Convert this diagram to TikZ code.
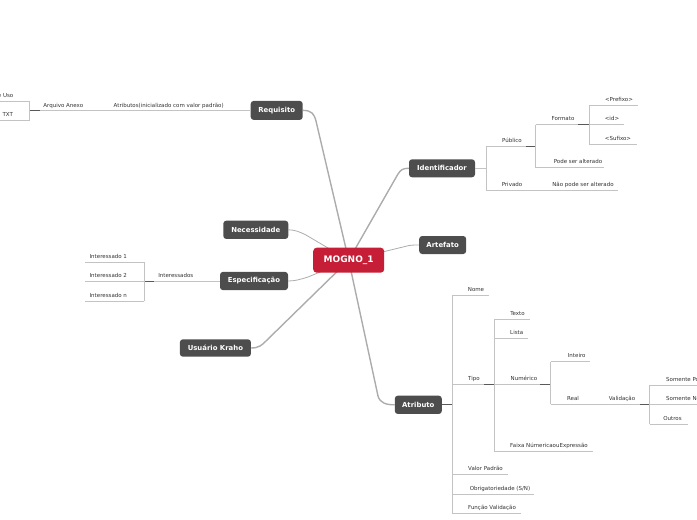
\documentclass[tikz,border=0pt]{standalone}
\usepackage{fontspec}
\setmainfont{DejaVu Sans}
\usetikzlibrary{backgrounds}
\definecolor{boxgray}{RGB}{77,77,77}
\definecolor{mred}{RGB}{198,30,54}
\definecolor{lngray}{RGB}{195,195,195}
\definecolor{cngray}{RGB}{172,172,172}
\definecolor{txtgray}{RGB}{50,50,50}
\begin{document}
\begin{tikzpicture}[x=1pt,y=-1pt,
 topic/.style={fill=boxgray, text=white, font=\bfseries\fontsize{6.9}{8}\selectfont, rounded corners=3pt, inner sep=0pt},
 central/.style={fill=mred, text=white, font=\bfseries\fontsize{9}{10}\selectfont, rounded corners=3.5pt, inner sep=0pt, minimum width=71pt, minimum height=25pt},
 lbl/.style={font=\fontsize{5.5}{6}\selectfont, text=txtgray, anchor=base, inner sep=0pt},
 lblw/.style={lbl, anchor=base west},
 lble/.style={lbl, anchor=base east},
 ln/.style={draw=lngray, line width=0.8pt},
 dk/.style={draw=black!65, line width=0.9pt},
 mainc/.style={draw=cngray, line width=1.4pt},
 thinc/.style={draw=cngray, line width=0.8pt}]
\useasboundingbox (0,0) rectangle (697,520);

% topics
\node[central] (mogno) at (348.7,260.2) {MOGNO\_1};
\node[topic, minimum width=52pt, minimum height=19pt] (req) at (276.7,110.4) {Requisito};
\node[topic, minimum width=66pt, minimum height=18pt] (ident) at (442,168.3) {Identificador};
\node[topic, minimum width=47pt, minimum height=18pt] (art) at (442.7,245) {Artefato};
\node[topic, minimum width=65pt, minimum height=18.3pt] (nec) at (255.8,229.8) {Necessidade};
\node[topic, minimum width=68pt, minimum height=18.3pt] (esp) at (254,281) {Especificação};
\node[topic, minimum width=71pt, minimum height=17.4pt] (usr) at (215.4,348) {Usuário Kraho};
\node[topic, minimum width=47pt, minimum height=18.3pt] (atr) at (418.3,404.8) {Atributo};

\begin{scope}[on background layer]
\draw[mainc] (req.east) .. controls (312,110.4) and (314,114) .. (316,121) -- (mogno.center);
\draw[mainc] (mogno.center) -- (398,174) .. controls (401,169.5) and (403,168.3) .. (ident.west);
\draw[thinc] (mogno.center) -- (405,246.5) .. controls (410,245) and (413,245) .. (art.west);
\draw[thinc] (nec.east) .. controls (295,229.8) and (300,232) .. (306,235) -- (mogno.center);
\draw[thinc] (esp.east) .. controls (295,281) and (300,279.5) .. (308,277) -- (mogno.center);
\draw[mainc] (usr.east) .. controls (259,348) and (262,345) .. (266,341) -- (mogno.center);
\draw[mainc] (mogno.center) -- (378,396) .. controls (380,403) and (386,404.8) .. (atr.west);
\end{scope}

% ---------- Requisito branch
\coordinate (rj) at (29.3,110.6);
\coordinate (rjt) at (29.3,101);
\coordinate (rjb) at (29.3,120.7);
\coordinate (rlt) at (0,101);
\coordinate (rlb) at (0,120.7);
\coordinate (rjd) at (40,110.6);
\draw[ln] (req.west |- rj) -- (rj);
\draw[dk] (rj) -- (rjd);
\draw[ln] (rjt) -- (rjb);
\draw[ln] (rlt) -- (rjt);
\draw[ln] (rlb) -- (rjb);
\node[lbl] (atrib) at (168.7,107) {Atributos(inicializado com valor padrão)};
\node[lbl] (anexo) at (63.3,107) {Arquivo Anexo};
\node[lble] (caso) at (13.5,97.2) {Caso de Uso};
\node[lbl] (txt) at (7.7,116.9) {TXT};

% ---------- Identificador branch
\coordinate (ij) at (486,168.3);
\coordinate (ijt) at (486,146.7);
\coordinate (ijb) at (486,190);
\coordinate (pj) at (535.5,146.7);
\coordinate (pjd) at (526,146.7);
\coordinate (pjt) at (535.5,124.5);
\coordinate (pjb) at (535.5,167.5);
\coordinate (fj) at (589,124.5);
\coordinate (fjd) at (578,124.5);
\coordinate (fjt) at (589,105);
\coordinate (fjb) at (589,144.3);
\coordinate (prefE) at (638,105);
\coordinate (idE) at (624,124.5);
\coordinate (sufE) at (636.7,144.3);
\coordinate (podeE) at (604.3,167.5);
\coordinate (privE) at (618,190);
\draw[ln] (ident.east) -- (ij);
\draw[ln] (ijt) -- (ijb);
\draw[ln] (ijt) -- (pj);
\draw[dk] (pjd) -- (pj);
\draw[ln] (pjt) -- (pjb);
\draw[ln] (pjt) -- (fj);
\draw[dk] (fjd) -- (fj);
\draw[ln] (fjt) -- (fjb);
\draw[ln] (fjt) -- (prefE);
\draw[ln] (fj) -- (idE);
\draw[ln] (fjb) -- (sufE);
\draw[ln] (pjb) -- (podeE);
\draw[ln] (ijb) -- (privE);
\node[lbl] (publico) at (512,142.9) {Público};
\node[lbl] (formato) at (563,120.7) {Formato};
\node[lbl] (prefixo) at (619,101.2) {<Prefixo>};
\node[lbl] (idl) at (612,120.7) {<id>};
\node[lbl] (sufixo) at (618,140.5) {<Sufixo>};
\node[lbl] (pode) at (578,163.7) {Pode ser alterado};
\node[lbl] (privado) at (512,186.2) {Privado};
\node[lbl] (naopode) at (583,186.2) {Não pode ser alterado};

% ---------- Atributo branch
\coordinate (aj) at (452.3,404.8);
\coordinate (ajt) at (452.3,295.7);
\coordinate (ajb) at (452.3,513.3);
\coordinate (nomeE) at (489,295.7);
\coordinate (tipoA) at (452.3,384.5);
\coordinate (tj) at (494,384.5);
\coordinate (tjd) at (484,384.5);
\coordinate (tjt) at (494,319.3);
\coordinate (tjb) at (494,451);
\coordinate (textoE) at (530,319.3);
\coordinate (listaA) at (494,338.7);
\coordinate (listaE) at (527.7,338.7);
\coordinate (nj) at (550.7,384.5);
\coordinate (njd) at (540,384.5);
\coordinate (njt) at (550.7,361.7);
\coordinate (njb) at (550.7,404.3);
\coordinate (inteiroE) at (590.3,361.7);
\coordinate (vj) at (649.7,404.3);
\coordinate (vjd) at (640,404.3);
\coordinate (vjt) at (649.7,385);
\coordinate (vjb) at (649.7,424.3);
\coordinate (spE) at (698,385);
\coordinate (snE) at (698,404.3);
\coordinate (outE) at (688,424.3);
\coordinate (faixaE) at (592.7,451);
\coordinate (valorA) at (452.3,474.3);
\coordinate (valorE) at (507.7,474.3);
\coordinate (obrigA) at (452.3,494.3);
\coordinate (obrigE) at (534,494.3);
\coordinate (funcE) at (520.7,513.3);
\draw[dk] (atr.east) -- (aj);
\draw[ln] (ajt) -- (aj);
\draw[ln] (aj) -- (ajb);
\draw[ln] (ajt) -- (nomeE);
\draw[ln] (tipoA) -- (tj);
\draw[dk] (tjd) -- (tj);
\draw[ln] (tjt) -- (tjb);
\draw[ln] (tjt) -- (textoE);
\draw[ln] (listaA) -- (listaE);
\draw[ln] (tj) -- (nj);
\draw[dk] (njd) -- (nj);
\draw[ln] (njt) -- (njb);
\draw[ln] (njt) -- (inteiroE);
\draw[ln] (njb) -- (vj);
\draw[dk] (vjd) -- (vj);
\draw[ln] (vjt) -- (vjb);
\draw[ln] (vjt) -- (spE);
\draw[ln] (vj) -- (snE);
\draw[ln] (vjb) -- (outE);
\draw[ln] (tjb) -- (faixaE);
\draw[ln] (valorA) -- (valorE);
\draw[ln] (obrigA) -- (obrigE);
\draw[ln] (ajb) -- (funcE);
\node[lbl] (nome) at (476,291.9) {Nome};
\node[lbl] (tipo) at (474,380.7) {Tipo};
\node[lbl] (texto) at (517.5,315.5) {Texto};
\node[lbl] (lista) at (516.7,334.9) {Lista};
\node[lbl] (numerico) at (524,380.5) {Numérico};
\node[lbl] (inteiro) at (576.7,357.9) {Inteiro};
\node[lbl] (real) at (573,400.5) {Real};
\node[lbl] (validacao) at (622,400.5) {Validação};
\node[lblw] (sp) at (666,381.2) {Somente Positivo};
\node[lblw] (sn) at (666,400.5) {Somente Negativo};
\node[lbl] (outros) at (672.5,420.5) {Outros};
\node[lbl] (faixa) at (549,447.2) {Faixa NúmericaouExpressão};
\node[lbl] (valor) at (485.5,470.5) {Valor Padrão};
\node[lbl] (obrig) at (500,490.5) {Obrigatoriedade (S/N)};
\node[lbl] (func) at (492,509.5) {Função Validação};

% ---------- Especificação branch
\coordinate (ej) at (144.3,281.5);
\coordinate (ejd) at (154,281.5);
\coordinate (ejt) at (144.3,262);
\coordinate (ejb) at (144.3,301);
\coordinate (i1E) at (85,262);
\coordinate (i2E) at (85,281.5);
\coordinate (inE) at (85,301);
\draw[ln] (esp.west |- ej) -- (ej);
\draw[dk] (ej) -- (ejd);
\draw[ln] (ejt) -- (ejb);
\draw[ln] (ejt) -- (i1E);
\draw[ln] (ej) -- (i2E);
\draw[ln] (ejb) -- (inE);
\node[lbl] (interessados) at (175.8,277.7) {Interessados};
\node[lbl] (int1) at (108.3,258.2) {Interessado 1};
\node[lbl] (int2) at (108.3,277.7) {Interessado 2};
\node[lbl] (intn) at (108.3,297.2) {Interessado n};
\end{tikzpicture}
\end{document}
